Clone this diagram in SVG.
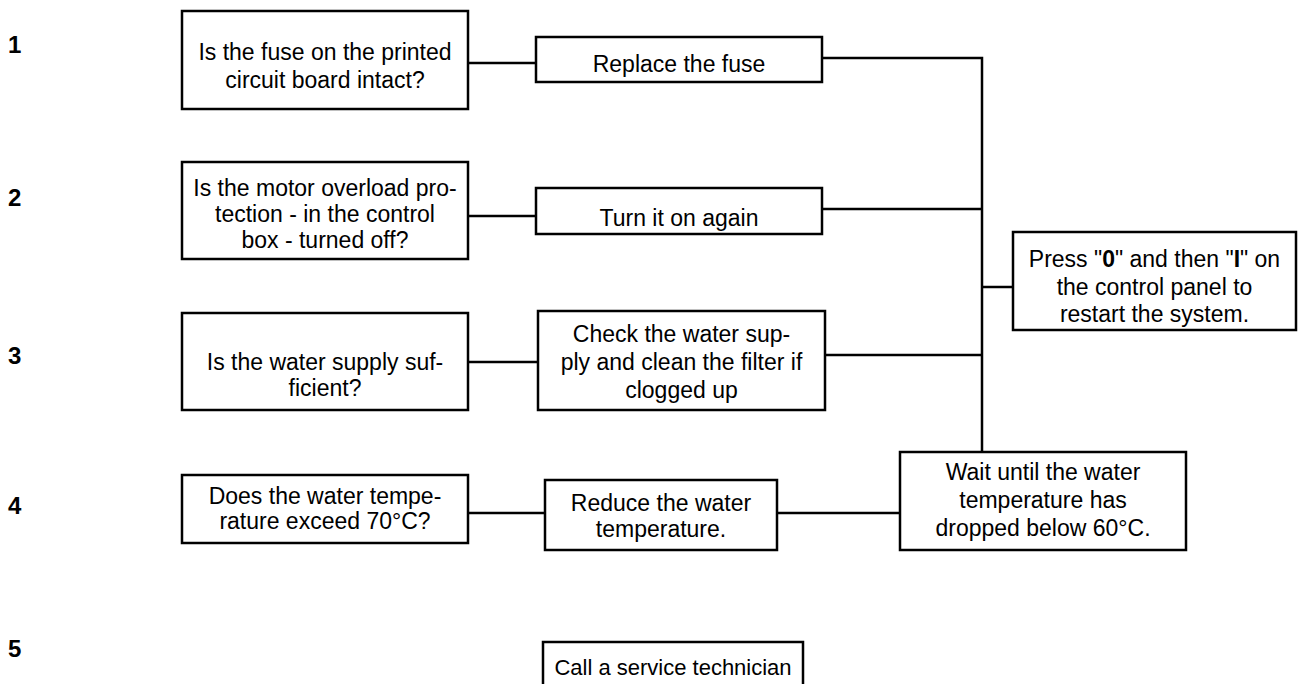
<svg xmlns="http://www.w3.org/2000/svg" width="1305" height="684" viewBox="0 0 1305 684">
<style>
rect{fill:#fff;stroke:#000;stroke-width:2.5}
.c line,.c polyline{stroke:#000;stroke-width:2.5;fill:none}
text{font-family:"Liberation Sans",Arial,sans-serif;font-size:23px;fill:#000}
.t{text-anchor:middle}
.n{font-weight:bold;font-size:24px}
</style>
<rect x="0" y="0" width="1305" height="684" style="fill:#fff;stroke:none"/>
<g id="numbers">
<text class="n" x="8" y="53">1</text>
<text class="n" x="8" y="206">2</text>
<text class="n" x="8" y="364">3</text>
<text class="n" x="8" y="514">4</text>
<text class="n" x="8" y="657">5</text>
</g>
<g class="c" id="connectors">
<line x1="468" y1="63" x2="536" y2="63"/>
<polyline points="822,58 982,58 982,452"/>
<line x1="468" y1="216" x2="536" y2="216"/>
<line x1="822" y1="209" x2="982" y2="209"/>
<line x1="982" y1="287" x2="1013" y2="287"/>
<line x1="468" y1="362" x2="538" y2="362"/>
<line x1="825" y1="355" x2="982" y2="355"/>
<line x1="468" y1="513" x2="545" y2="513"/>
<line x1="777" y1="513" x2="900" y2="513"/>
</g>
<g id="q1"><rect x="182" y="11" width="286" height="98"/>
<text class="t" x="325" y="60">Is the fuse on the printed</text>
<text class="t" x="325" y="88">circuit board intact?</text></g>
<g id="a1"><rect x="536" y="37" width="286" height="45"/>
<text class="t" x="679" y="72">Replace the fuse</text></g>
<g id="q2"><rect x="182" y="162" width="286" height="97"/>
<text class="t" x="325" y="196">Is the motor overload pro-</text>
<text class="t" x="325" y="222">tection - in the control</text>
<text class="t" x="325" y="248">box - turned off?</text></g>
<g id="a2"><rect x="536" y="188" width="286" height="46"/>
<text class="t" x="679" y="226">Turn it on again</text></g>
<g id="restart"><rect x="1013" y="232" width="283" height="98"/>
<text class="t" x="1154.5" y="267">Press "<tspan font-weight="bold">0</tspan>" and then "<tspan font-weight="bold">I</tspan>" on</text>
<text class="t" x="1154.5" y="295">the control panel to</text>
<text class="t" x="1154.5" y="322">restart the system.</text></g>
<g id="q3"><rect x="182" y="313" width="286" height="97"/>
<text class="t" x="325" y="370">Is the water supply suf-</text>
<text class="t" x="325" y="396">ficient?</text></g>
<g id="a3"><rect x="538" y="311" width="287" height="99"/>
<text class="t" x="681.5" y="342">Check the water sup-</text>
<text class="t" x="681.5" y="370">ply and clean the filter if</text>
<text class="t" x="681.5" y="398">clogged up</text></g>
<g id="q4"><rect x="182" y="475" width="286" height="68"/>
<text class="t" x="325" y="504">Does the water tempe-</text>
<text class="t" x="325" y="529">rature exceed 70°C?</text></g>
<g id="a4"><rect x="545" y="480" width="232" height="70"/>
<text class="t" x="661" y="511">Reduce the water</text>
<text class="t" x="661" y="537">temperature.</text></g>
<g id="wait"><rect x="900" y="452" width="286" height="98"/>
<text class="t" x="1043" y="480">Wait until the water</text>
<text class="t" x="1043" y="508">temperature has</text>
<text class="t" x="1043" y="536">dropped below 60°C.</text></g>
<g id="call"><rect x="543" y="642" width="260" height="60"/>
<text class="t" x="673" y="675" style="font-size:22px">Call a service technician</text></g>
</svg>
